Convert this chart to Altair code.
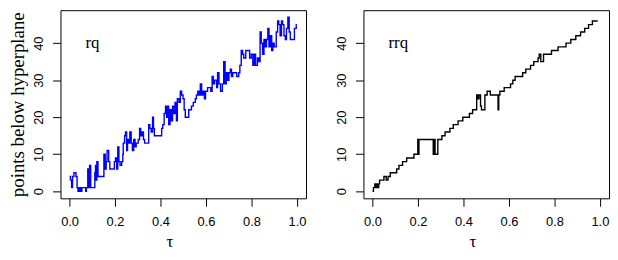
import altair as alt
import pandas as pd

# ---- data ----
rq_tau = [0.000, 0.004, 0.009, 0.013, 0.019, 0.028, 0.033, 0.037, 0.043, 0.048,
          0.054, 0.071, 0.074, 0.080, 0.084, 0.088, 0.093, 0.111, 0.114, 0.117,
          0.120, 0.125, 0.151, 0.157, 0.161, 0.165, 0.172, 0.177, 0.197, 0.202,
          0.207, 0.212, 0.217, 0.222, 0.229, 0.234, 0.236, 0.242, 0.246, 0.251,
          0.255, 0.259, 0.265, 0.271, 0.276, 0.282, 0.288, 0.293, 0.302, 0.308,
          0.313, 0.319, 0.325, 0.330, 0.348, 0.353, 0.359, 0.365, 0.369, 0.373,
          0.405, 0.410, 0.416, 0.422, 0.427, 0.433, 0.436, 0.442, 0.447, 0.453,
          0.459, 0.464, 0.470, 0.474, 0.481, 0.487, 0.493, 0.499, 0.504, 0.509,
          0.524, 0.536, 0.544, 0.553, 0.558, 0.564, 0.570, 0.575, 0.581, 0.587,
          0.593, 0.598, 0.607, 0.621, 0.627, 0.632, 0.638, 0.647, 0.651, 0.657,
          0.664, 0.672, 0.678, 0.684, 0.689, 0.695, 0.701, 0.707, 0.712, 0.718,
          0.735, 0.744, 0.749, 0.755, 0.761, 0.766, 0.775, 0.792, 0.799, 0.806,
          0.812, 0.818, 0.826, 0.832, 0.838, 0.843, 0.849, 0.855, 0.860, 0.866,
          0.872, 0.877, 0.883, 0.889, 0.894, 0.900, 0.909, 0.915, 0.920, 0.926,
          0.932, 0.937, 0.943, 0.949, 0.954, 0.960, 0.966, 0.971, 0.986, 0.989,
          0.997, 1.000]
rq_val = [4, 3, 1, 4, 5, 4, 1, 0, 1, 0,
          1, 0, 1, 6, 1, 7, 1, 5, 7, 3,
          8, 4, 10, 6, 8, 11, 8, 6, 8, 9,
          6, 12, 8, 7, 8, 10, 13, 15, 16, 11,
          14, 13, 16, 13, 11, 14, 12, 13, 14, 17,
          15, 16, 14, 13, 18, 17, 16, 20, 17, 15,
          17, 18, 21, 23, 20, 23, 18, 22, 19, 23,
          21, 24, 19, 25, 24, 27, 26, 25, 22, 20,
          22, 23, 24, 25, 26, 27, 26, 29, 26, 27,
          25, 27, 28, 27, 31, 29, 30, 28, 32, 29,
          27, 29, 35, 29, 32, 30, 32, 33, 31, 32,
          31, 32, 34, 38, 37, 36, 38, 36, 37, 34,
          37, 34, 36, 35, 43, 40, 37, 41, 39, 41,
          44, 39, 42, 38, 40, 39, 43, 46, 45, 42,
          46, 45, 42, 41, 44, 47, 43, 41, 41, 44,
          45, 45]

rrq_tau = [0.000, 0.004, 0.010, 0.014, 0.018, 0.023, 0.027, 0.031, 0.050, 0.060,
           0.068, 0.078, 0.106, 0.116, 0.132, 0.150, 0.182, 0.199, 0.201, 0.204,
           0.267, 0.271, 0.275, 0.287, 0.305, 0.319, 0.340, 0.355, 0.376, 0.397,
           0.426, 0.440, 0.458, 0.462, 0.468, 0.475, 0.479, 0.494, 0.504, 0.518,
           0.552, 0.555, 0.560, 0.579, 0.607, 0.617, 0.627, 0.660, 0.674, 0.695,
           0.709, 0.728, 0.733, 0.740, 0.752, 0.787, 0.816, 0.851, 0.872, 0.894,
           0.915, 0.933, 0.950, 0.967, 0.990]
rrq_val = [0, 1, 2, 1, 2, 1, 2, 3, 4, 3,
           4, 5, 6, 7, 8, 9, 10, 14, 10, 14,
           10, 14, 10, 14, 15, 16, 17, 18, 19, 20,
           21, 22, 26, 25, 26, 23, 22, 26, 27, 26,
           22, 26, 27, 28, 29, 30, 31, 32, 33, 34,
           35, 36, 37, 35, 37, 38, 39, 40, 41, 42,
           43, 44, 45, 46, 46]

x_ticks = [0.0, 0.2, 0.4, 0.6, 0.8, 1.0]
y_ticks = [0, 10, 20, 30, 40]

W, H = 248, 190


def panel(tau, val, color, label, ytitle):
    df = pd.DataFrame({"tau": tau, "v": val})
    xax = alt.Axis(values=x_ticks, format=".1f", title="τ", titleFontSize=17,
                   labelPadding=9, titlePadding=6, titleX=W / 2 - 14)
    yax = alt.Axis(values=y_ticks, format="d", title=ytitle, titleFontSize=19,
                   labelAngle=270, labelAlign="center", labelBaseline="bottom",
                   labelPadding=7, titlePadding=5)
    xs = alt.Scale(domain=[-0.04, 1.04], nice=False, zero=False)
    ys = alt.Scale(domain=[-1.9, 48.9], nice=False, zero=False)
    line = alt.Chart(df).mark_line(interpolate="step-after", color=color,
                                   strokeWidth=1.4).encode(
        x=alt.X("tau:Q", scale=xs, axis=xax),
        y=alt.Y("v:Q", scale=ys, axis=yax),
    )
    tdf = pd.DataFrame({"tau": [0.07], "v": [40], "t": [label]})
    txt = alt.Chart(tdf).mark_text(align="left", baseline="middle",
                                   font="Liberation Serif", fontSize=17,
                                   color="black").encode(
        x=alt.X("tau:Q", scale=xs),
        y=alt.Y("v:Q", scale=ys),
        text="t:N",
    )
    return alt.layer(line, txt).properties(width=W, height=H)


left = panel(rq_tau, rq_val, "#0000ff", "rq", "points below hyperplane")
right = panel(rrq_tau, rrq_val, "black", "rrq", "")

chart = alt.hconcat(left, right, spacing=58, bounds="flush").properties(
    padding=0
).configure_view(stroke="black", strokeWidth=1).configure_axis(
    grid=False, domain=False, labelFont="Liberation Sans", labelFontSize=13,
    labelColor="black", tickColor="black", tickSize=8, tickWidth=1,
    titleFont="Liberation Serif", titleFontWeight="normal", titleColor="black",
)

chart.save("out.html", embed_options={"renderer": "svg", "actions": False})
